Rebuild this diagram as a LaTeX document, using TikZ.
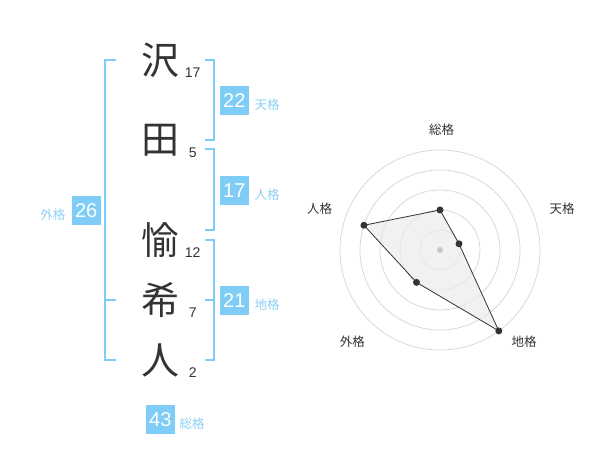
\documentclass[tikz,border=0pt]{standalone}
\usepackage{fontspec}
\setmainfont{Liberation Sans}
\newfontfamily\jp{Noto Sans CJK JP}
\usetikzlibrary{positioning}
\definecolor{kakublue}{HTML}{7FCCF7}
\definecolor{labelblue}{HTML}{8CD0F5}
\definecolor{inkgray}{HTML}{333333}
\definecolor{ringgray}{HTML}{D4D4D4}
\definecolor{centergray}{HTML}{C8C8C8}

\begin{document}
\begin{tikzpicture}[x=1pt,y=-1pt,
    kanji/.style={inner sep=0pt,text=inkgray,font=\jp\fontsize{38}{38}\selectfont},
    strokes/.style={inner sep=0pt,text=inkgray,font=\fontsize{14}{14}\selectfont},
    kakubox/.style={fill=kakublue,text=white,minimum size=28.7pt,inner sep=0pt,font=\fontsize{20}{20}\selectfont},
    kakulabel/.style={inner sep=0pt,text=labelblue,font=\jp\fontsize{12.5}{12.5}\selectfont},
    brk/.style={draw=kakublue,line width=2pt},
    axislabel/.style={inner sep=0pt,text=inkgray,font=\jp\fontsize{12.5}{12.5}\selectfont},
    ring/.style={draw=ringgray,line width=0.7pt},
    dot/.style={circle,fill=inkgray,inner sep=0pt,minimum size=7pt}] %
  \useasboundingbox (0,0) rectangle (600,470);
  % name
  \node[kanji] (sawa) at (160,60) {沢} ; %
  \node[kanji] (ta) at (160,140) {田} ; %
  \node[kanji] (yu) at (160,240) {愉} ; %
  \node[kanji] (ki) at (160,300) {希} ; %
  \node[kanji] (hito) at (160,360) {人} ; %
  \node[strokes] (nsawa) at (192.7,73) {17};
  \node[strokes] (nta) at (192.7,153) {5};
  \node[strokes] (nyu) at (192.7,253) {12};
  \node[strokes] (nki) at (192.7,313) {7};
  \node[strokes] (nhito) at (192.7,373) {2};
  % brackets
  \draw[brk] ([xshift=45pt]sawa.center) -| ([xshift=54.3pt]ta.center) -- ([xshift=45pt]ta.center);
  \draw[brk] ([xshift=45pt,yshift=-9.3pt]ta.center) -| ([xshift=54.3pt,yshift=10pt]yu.center) -- ([xshift=45pt,yshift=10pt]yu.center);
  \draw[brk] ([xshift=45pt]yu.center) -| ([xshift=54.3pt]hito.center) -- ([xshift=45pt]hito.center);
  \draw[brk] ([xshift=45pt]ki.center) -- ([xshift=54.3pt]ki.center);
  \draw[brk] ([xshift=-44pt]sawa.center) -| ([xshift=-55pt]hito.center) -- ([xshift=-44pt]hito.center);
  \draw[brk] ([xshift=-44pt]ki.center) -- ([xshift=-55pt]ki.center);
  % scores
  \node[kakubox] (tenbox) at (234.3,100.3) {22};
  \node[kakulabel, right=5.5pt of tenbox, yshift=-4pt] (tenlabel) {天格};
  \node[kakubox] (jinbox) at (234.3,190.3) {17};
  \node[kakulabel, right=5.5pt of jinbox, yshift=-4pt] (jinlabel) {人格};
  \node[kakubox] (chibox) at (234.3,300.3) {21};
  \node[kakulabel, right=5.5pt of chibox, yshift=-4pt] (chilabel) {地格};
  \node[kakubox] (gaibox) at (86.2,210.3) {26};
  \node[kakulabel, left=6pt of gaibox, yshift=-4pt] (gailabel) {外格};
  \node[kakubox] (soubox) at (160.3,419.3) {43};
  \node[kakulabel, right=4.5pt of soubox, yshift=-4pt] (soulabel) {総格};
  % radar
  \begin{scope}[shift={(440,250)}]
    \foreach \r in {20,40,...,100}
      \draw[ring] (0,0) circle (\r pt);
    \coordinate (vsou) at (90:40pt);
    \coordinate (vten) at (18:20pt);
    \coordinate (vchi) at (-54:100pt);
    \coordinate (vgai) at (-126:40pt);
    \coordinate (vjin) at (162:80pt);
    \filldraw[fill=black!8,fill opacity=0.7,draw=inkgray,line width=0.8pt,line join=round]
      (vsou) -- (vten) -- (vchi) -- (vgai) -- (vjin) -- cycle;
    \node[circle,fill=centergray,inner sep=0pt,minimum size=6pt] (mid) at (0,0) {};
    \foreach \v in {vsou,vten,vchi,vgai,vjin}
      \node[dot] (d\v) at (\v) {};
  \end{scope}
  \node[axislabel] (asou) at (441.7,130) {総格};
  \node[axislabel] (aten) at (562,209) {天格};
  \node[axislabel] (achi) at (524,342) {地格};
  \node[axislabel] (agai) at (352.3,342) {外格};
  \node[axislabel] (ajin) at (319.5,209) {人格};
\end{tikzpicture}
\end{document}
